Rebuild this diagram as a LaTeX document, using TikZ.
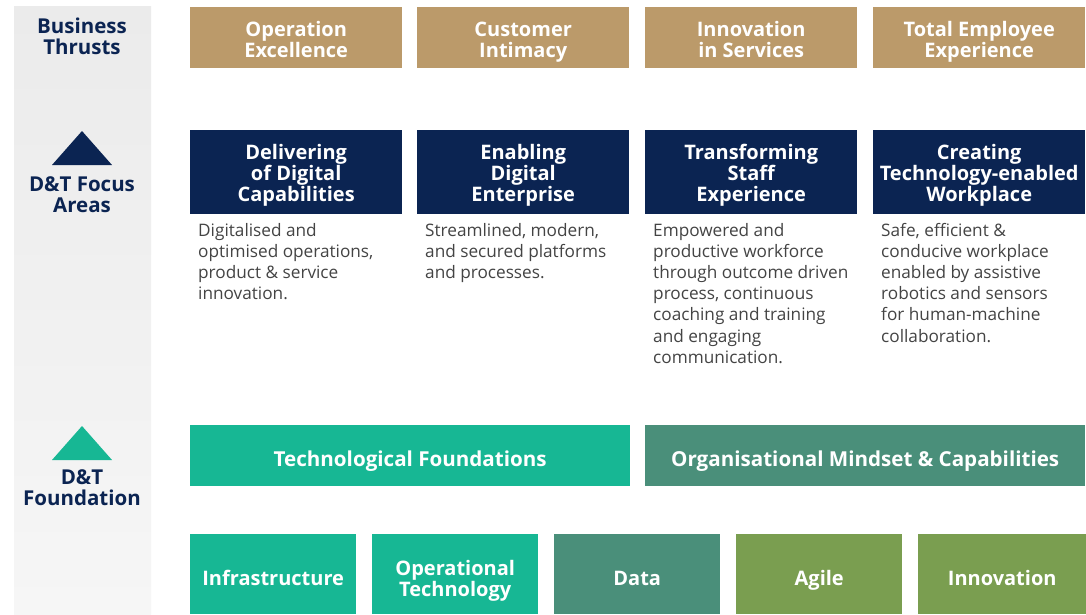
\documentclass[tikz,border=0pt]{standalone}
\usepackage{fontspec}
\setmainfont{Open Sans}
\definecolor{gold}{HTML}{BB9A6A}
\definecolor{navy}{HTML}{0B2452}
\definecolor{teal}{HTML}{17B794}
\definecolor{sea}{HTML}{4A8F7A}
\definecolor{olive}{HTML}{7A9E50}
\definecolor{desc}{HTML}{444444}
\definecolor{paneltop}{HTML}{EBEBEB}
\definecolor{panelbot}{HTML}{F6F6F6}
\newcommand\topfix[1]{\rule{0pt}{#1}}
\newcommand\onefix[1]{\rule[-5pt]{0pt}{#1}}
\newcommand\botfix{\rule[-5pt]{0pt}{5pt}}
\tikzset{
  tbox/.style={rectangle, anchor=north west, inner sep=0pt, align=center, text=white,
    font=\fontsize{20}{21.3}\selectfont\bfseries},
  thrust/.style={tbox, fill=gold, minimum width=212pt, minimum height=61pt},
  focus/.style={tbox, fill=navy, minimum width=212pt, minimum height=84pt},
  found/.style={tbox, minimum width=440pt, minimum height=61pt,
    font=\fontsize{20.6}{21.3}\selectfont\bfseries},
  pillar/.style={tbox, minimum width=166pt, minimum height=80pt},
  desctext/.style={anchor=north west, inner sep=0pt, align=left, text=desc,
    font=\fontsize{17.2}{21.15}\selectfont},
  sidelabel/.style={align=center, text=navy, inner sep=0pt,
    font=\fontsize{20.5}{20.8}\selectfont\bfseries}
}
\begin{document}
\begin{tikzpicture}[x=1pt,y=-1pt]
\useasboundingbox (0,0) rectangle (1086,614);
\fill[white] (0,0) rectangle (1086,614);
% side panel
\shade[top color=paneltop, bottom color=panelbot] (14,6) rectangle (151,614);
\node[sidelabel] (lbt) at (82,36) {Business\\Thrusts};
\fill[navy] (52,165) -- (112,165) -- (82,131) -- cycle;
\node[sidelabel] (lfa) at (82,194.5) {D\&T Focus\\Areas};
\fill[teal] (52,460) -- (112,460) -- (82,426) -- cycle;
\node[sidelabel] (lfd) at (82,487.5) {D\&T\\Foundation};
% business thrusts
\node[thrust] (t1) at (190,7) {\topfix{24pt}Operation\\Excellence\botfix};
\node[thrust] (t2) at (417,7) {\topfix{24pt}Customer\\Intimacy\botfix};
\node[thrust] (t3) at (645,7) {\topfix{24pt}Innovation\\in Services\botfix};
\node[thrust] (t4) at (873,7) {\topfix{24pt}Total Employee\\Experience\botfix};
% focus areas
\node[focus] (f1) at (190,130) {\topfix{21pt}Delivering\\of Digital\\Capabilities};
\node[focus] (f2) at (417,130) {\topfix{21pt}Enabling\\Digital\\Enterprise};
\node[focus] (f3) at (645,130) {\topfix{21pt}Transforming\\Staff\\Experience};
\node[focus] (f4) at (873,130) {\topfix{21pt}Creating\\Technology-enabled\\Workplace};
\node[desctext] (d1) at (198,223) {Digitalised and\\optimised operations,\\product \& service\\innovation.};
\node[desctext] (d2) at (425,223) {Streamlined, modern,\\and secured platforms\\and processes.};
\node[desctext] (d3) at (653,223) {Empowered and\\productive workforce\\through outcome driven\\process, continuous\\coaching and training\\and engaging\\communication.};
\node[desctext] (d4) at (881,223) {Safe, efficient \&\\conducive workplace\\enabled by assistive\\robotics and sensors\\for human-machine\\collaboration.};
% foundation
\node[found, fill=teal] (g1) at (190,425) {\onefix{30.6pt}Technological Foundations};
\node[found, fill=sea] (g2) at (645,425) {\onefix{30.6pt}Organisational Mindset \& Capabilities};
\node[pillar, fill=teal] (p1) at (190,534) {\onefix{33pt}Infrastructure};
\node[pillar, fill=teal] (p2) at (372,534) {\topfix{29pt}Operational\\Technology};
\node[pillar, fill=sea] (p3) at (554,534) {\onefix{33pt}Data};
\node[pillar, fill=olive] (p4) at (736,534) {\onefix{33pt}Agile};
\node[pillar, fill=olive, minimum width=168pt] (p5) at (918,534) {\onefix{33pt}Innovation};
\end{tikzpicture}
\end{document}
